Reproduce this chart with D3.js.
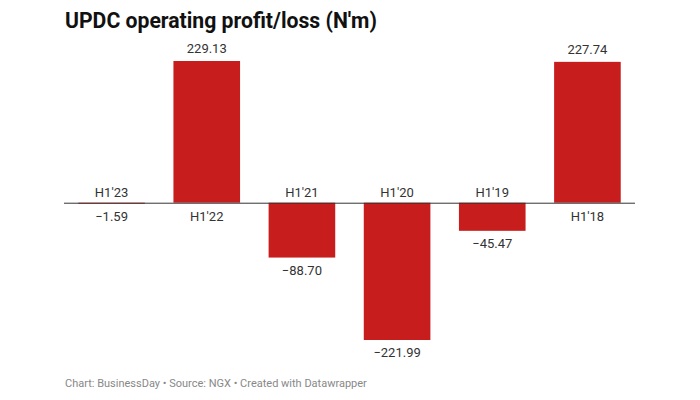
<!DOCTYPE html>
<html><head><meta charset="utf-8">
<script src="https://cdn.jsdelivr.net/npm/d3@7"></script>
<style>
body{margin:0;background:#fff;font-family:Roboto,"Noto Sans",sans-serif;}
</style></head><body>
<svg id="c" width="700" height="400"></svg>
<script>
const categories = ["H1'23","H1'22","H1'21","H1'20","H1'19","H1'18"];
const values = [-1.59, 229.13, -88.70, -221.99, -45.47, 227.74];
const title = "UPDC operating profit/loss (N'm)";
const footer = "Chart: BusinessDay • Source: NGX • Created with Datawrapper";

const svg = d3.select("#c");
const W = 700, H = 400;
svg.append("rect").attr("width",W).attr("height",H).attr("fill","#fff");

svg.append("text").attr("x",65).attr("y",28)
  .attr("font-family","Roboto").attr("font-weight",700).attr("font-size",21.2)
  .attr("fill","#111").text(title);

const x = d3.scaleBand().domain(categories).range([64,635]).paddingInner(0.3).paddingOuter(0.15);
const y = d3.scaleLinear().domain([-221.99, 229.13]).range([340, 61]);

const fmt = v => (v<0?"\u2212":"") + d3.format(".2f")(Math.abs(v));

const g = svg.append("g");
g.selectAll("rect.bar").data(values).join("rect").attr("class","bar")
  .attr("x",(d,i)=>x(categories[i]))
  .attr("width",x.bandwidth())
  .attr("y",d=>Math.min(y(d),y(0)))
  .attr("height",d=>Math.max(1,Math.abs(y(d)-y(0))))
  .attr("fill","#c71e1d");

g.append("line").attr("x1",64).attr("x2",635).attr("y1",y(0)+0.5).attr("y2",y(0)+0.5)
  .attr("stroke","#333").attr("stroke-width",1);

g.selectAll("text.val").data(values).join("text").attr("class","val")
  .attr("x",(d,i)=>x(categories[i])+x.bandwidth()/2)
  .attr("y",d=> d>=0 ? y(d)-8 : Math.max(y(d),y(0)+1)+17)
  .attr("text-anchor","middle").attr("font-family","Roboto").attr("font-size",13)
  .attr("fill","#333").text(fmt);

g.selectAll("text.cat").data(values).join("text").attr("class","cat")
  .attr("x",(d,i)=>x(categories[i])+x.bandwidth()/2)
  .attr("y",d=> d>=0 ? y(0)+18 : y(0)-6)
  .attr("text-anchor","middle").attr("font-family","Roboto").attr("font-size",13)
  .attr("fill","#333").text((d,i)=>categories[i]);

svg.append("text").attr("x",65).attr("y",387)
  .attr("font-family","Roboto").attr("font-size",11)
  .attr("fill","#888").text(footer);
</script>
</body></html>
